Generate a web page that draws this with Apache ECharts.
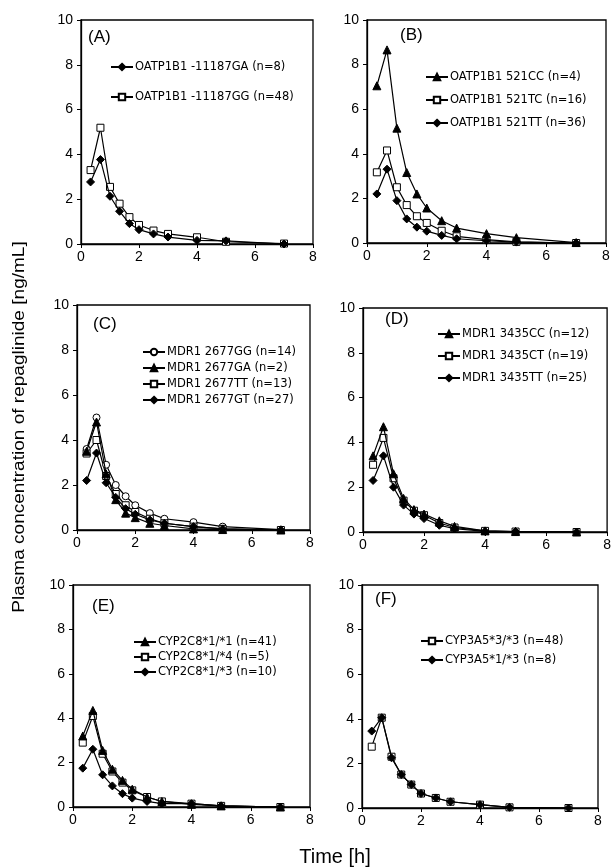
<!DOCTYPE html>
<html>
<head>
<meta charset="utf-8">
<script src="https://cdn.jsdelivr.net/npm/echarts@6/dist/echarts.min.js"></script>
<style>
html,body{margin:0;padding:0;background:#fff;}
#main{width:614px;height:868px;}
</style>
</head>
<body>
<div id="main"></div>
<script>
// Sampling times (h)
var time = [0.33, 0.67, 1, 1.33, 1.67, 2, 2.5, 3, 4, 5, 7];
var xTicks = [0, 2, 4, 6, 8];
var yTicks = [0, 2, 4, 6, 8, 10];

// Panel A
var A_GA = [2.77, 3.77, 2.13, 1.46, 0.91, 0.64, 0.45, 0.31, 0.16, 0.14, 0.0];
var A_GG = [3.3, 5.19, 2.55, 1.8, 1.2, 0.85, 0.6, 0.45, 0.3, 0.1, 0.02];
// Panel B
var B_CC = [7.05, 8.66, 5.15, 3.16, 2.2, 1.57, 1.0, 0.67, 0.42, 0.24, 0.02];
var B_TC = [3.17, 4.15, 2.5, 1.7, 1.2, 0.9, 0.55, 0.3, 0.15, 0.05, 0.0];
var B_TT = [2.2, 3.31, 1.9, 1.08, 0.71, 0.53, 0.34, 0.19, 0.1, 0.04, 0.0];
// Panel C
var C_GG = [3.6, 5.0, 2.9, 2.0, 1.5, 1.1, 0.75, 0.5, 0.35, 0.15, 0.02];
var C_GA = [3.5, 4.8, 2.5, 1.35, 0.75, 0.55, 0.3, 0.2, 0.05, 0.02, 0.0];
var C_TT = [3.4, 4.0, 2.4, 1.6, 1.1, 0.8, 0.5, 0.3, 0.15, 0.05, 0.0];
var C_GT = [2.2, 3.42, 2.1, 1.45, 0.95, 0.7, 0.45, 0.3, 0.15, 0.05, 0.0];
// Panel D
var D_CC = [3.4, 4.7, 2.6, 1.5, 1.0, 0.8, 0.5, 0.25, 0.05, 0.02, 0.0];
var D_CT = [3.0, 4.2, 2.4, 1.4, 0.95, 0.75, 0.4, 0.2, 0.05, 0.02, 0.0];
var D_TT = [2.3, 3.4, 2.0, 1.2, 0.8, 0.6, 0.3, 0.15, 0.03, 0.02, 0.0];
// Panel E
var E_11 = [3.2, 4.35, 2.55, 1.7, 1.2, 0.8, 0.45, 0.25, 0.12, 0.05, 0.0];
var E_14 = [2.9, 4.1, 2.4, 1.6, 1.1, 0.75, 0.45, 0.25, 0.15, 0.05, 0.0];
var E_13 = [1.75, 2.6, 1.45, 0.95, 0.6, 0.4, 0.25, 0.15, 0.15, 0.05, 0.0];
// Panel F
var F_33 = [2.75, 4.05, 2.3, 1.5, 1.05, 0.65, 0.45, 0.28, 0.15, 0.03, 0.0];
var F_13 = [3.45, 4.05, 2.25, 1.5, 1.05, 0.65, 0.45, 0.28, 0.15, 0.03, 0.0];

function pts(vals){ return time.map(function(t,i){ return [t, vals[i]]; }); }

var grids = [
  {left:81, top:20, width:232, height:224},
  {left:367, top:20, width:239, height:223},
  {left:77, top:305, width:233, height:225},
  {left:363, top:308, width:247, height:224},
  {left:73, top:585, width:237, height:222},
  {left:362, top:585, width:236, height:223}
];

var panels = [
  {label:'(A)', lx:88, ly:29, legend:{left:110, top:61, gap:18}, series:[
    ['OATP1B1 -11187GA (n=8)', A_GA, 'diamond'],
    ['OATP1B1 -11187GG (n=48)', A_GG, 'rect']]},
  {label:'(B)', lx:400, ly:27, legend:{left:425, top:71, gap:11}, series:[
    ['OATP1B1 521CC (n=4)', B_CC, 'triangle'],
    ['OATP1B1 521TC (n=16)', B_TC, 'rect'],
    ['OATP1B1 521TT (n=36)', B_TT, 'diamond']]},
  {label:'(C)', lx:93, ly:316, legend:{left:142, top:346, gap:4}, series:[
    ['MDR1 2677GG (n=14)', C_GG, 'circle'],
    ['MDR1 2677GA (n=2)', C_GA, 'triangle'],
    ['MDR1 2677TT (n=13)', C_TT, 'rect'],
    ['MDR1 2677GT (n=27)', C_GT, 'diamond']]},
  {label:'(D)', lx:385, ly:311, legend:{left:437, top:328, gap:10}, series:[
    ['MDR1 3435CC (n=12)', D_CC, 'triangle'],
    ['MDR1 3435CT (n=19)', D_CT, 'rect'],
    ['MDR1 3435TT (n=25)', D_TT, 'diamond']]},
  {label:'(E)', lx:92, ly:598, legend:{left:133, top:636, gap:3}, series:[
    ['CYP2C8*1/*1 (n=41)', E_11, 'triangle'],
    ['CYP2C8*1/*4 (n=5)', E_14, 'rect'],
    ['CYP2C8*1/*3 (n=10)', E_13, 'diamond']]},
  {label:'(F)', lx:375, ly:591, legend:{left:420, top:635, gap:7}, series:[
    ['CYP3A5*3/*3 (n=48)', F_33, 'rect'],
    ['CYP3A5*1/*3 (n=8)', F_13, 'diamond']]}
];

var xAxes = [], yAxes = [], series = [], legends = [], graphics = [];
panels.forEach(function(p, gi){
  xAxes.push({gridIndex:gi, type:'value', min:0, max:8, interval:2,
    axisLine:{lineStyle:{color:'#000', width:1.3}},
    axisTick:{show:true, length:4, lineStyle:{color:'#000'}},
    axisLabel:{color:'#000', fontSize:14, fontFamily:'Liberation Sans', margin:6},
    splitLine:{show:false}});
  yAxes.push({gridIndex:gi, type:'value', min:0, max:10, interval:2,
    axisLine:{show:true, lineStyle:{color:'#000', width:1.3}},
    axisTick:{show:true, length:4, lineStyle:{color:'#000'}},
    axisLabel:{color:'#000', fontSize:14, fontFamily:'Liberation Sans', margin:8},
    splitLine:{show:false}});
  var names = [];
  p.series.forEach(function(s){
    var open = (s[2] === 'rect' || s[2] === 'circle');
    var size = s[2] === 'triangle' ? 8 : (s[2] === 'diamond' ? 8 : 7);
    names.push(s[0]);
    series.push({type:'line', name:s[0], xAxisIndex:gi, yAxisIndex:gi,
      data:pts(s[1]), symbol:s[2], symbolSize:size, showSymbol:true,
      lineStyle:{color:'#000', width:1.2},
      itemStyle:{color: open ? '#fff' : '#000', borderColor:'#000', borderWidth:1},
      emphasis:{disabled:true}, animation:false, z: open ? 3 : 4});
  });
  legends.push({orient:'vertical', left:p.legend.left, top:p.legend.top,
    itemGap:p.legend.gap, itemWidth:22, itemHeight:8, padding:0,
    data:names, selectedMode:false,
    textStyle:{color:'#000', fontSize:11.5, fontFamily:'DejaVu Sans', padding:[0,0,0,-3]}});
  graphics.push({type:'text', left:p.lx, top:p.ly,
    style:{text:p.label, fontSize:17, fontFamily:'Liberation Sans', fill:'#000'}});
});

graphics.push({type:'text', x:20, y:427, rotation:Math.PI/2, scaleX:1.19, scaleY:1,
  style:{text:'Plasma concentration of repaglinide [ng/mL]', fontSize:16, fontFamily:'Liberation Sans',
    fill:'#000', align:'center', verticalAlign:'middle'}});
graphics.push({type:'text', x:335, y:857,
  style:{text:'Time [h]', fontSize:20, fontFamily:'Liberation Sans', fill:'#000', align:'center', verticalAlign:'middle'}});

var grid = grids.map(function(g){ return Object.assign({show:true, borderColor:'#000', borderWidth:1.3, backgroundColor:'transparent'}, g); });

var chart = echarts.init(document.getElementById('main'), null, {renderer:'canvas'});
chart.setOption({
  backgroundColor:'#fff',
  animation:false,
  grid:grid, xAxis:xAxes, yAxis:yAxes, series:series, legend:legends, graphic:graphics
});
</script>
</body>
</html>
